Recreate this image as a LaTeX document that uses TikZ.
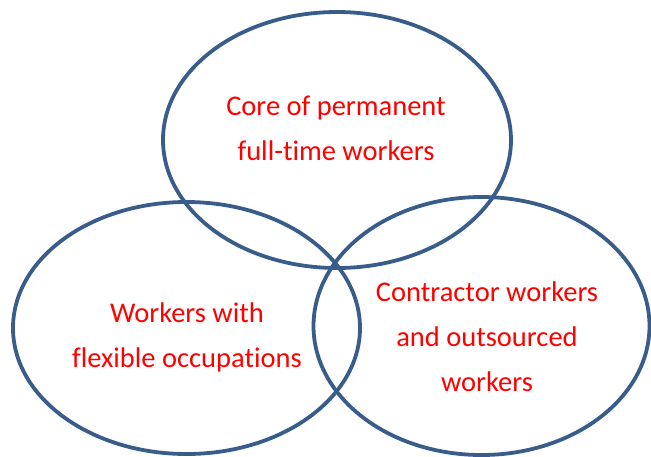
\documentclass[tikz,border=0pt]{standalone}
\usepackage{fontspec}
\setmainfont[Ligatures=NoCommon]{Carlito}

\begin{document}
\begin{tikzpicture}[x=1pt,y=1pt,yscale=-1,xscale=1]
\tikzset{ring/.style={draw={rgb,255:red,56;green,93;blue,138},line width=3.8pt},
  label/.style={anchor=center,inner sep=0.75pt,align=center,text=red,font=\fontsize{28.5}{45}\selectfont}}
\useasboundingbox (0,0) rectangle (651,456);

%Shape: Ellipse [top]
\draw [ring] (337,140) ellipse [x radius=174,y radius=128];
%Shape: Ellipse [left]
\draw [ring] (186.5,328) ellipse [x radius=173.5,y radius=126];
%Shape: Ellipse [right]
\draw [ring] (481.5,326) ellipse [x radius=168,y radius=129];

% Text Node
\node (core) [label] at (336,128) {Core of permanent\\full-time workers};
% Text Node
\node (flexible) [label] at (187,337) {Workers with\\flexible occupations};
% Text Node
\node (contractor) [label] at (487,337) {Contractor workers\\and outsourced\\workers};

\end{tikzpicture}
\end{document}
